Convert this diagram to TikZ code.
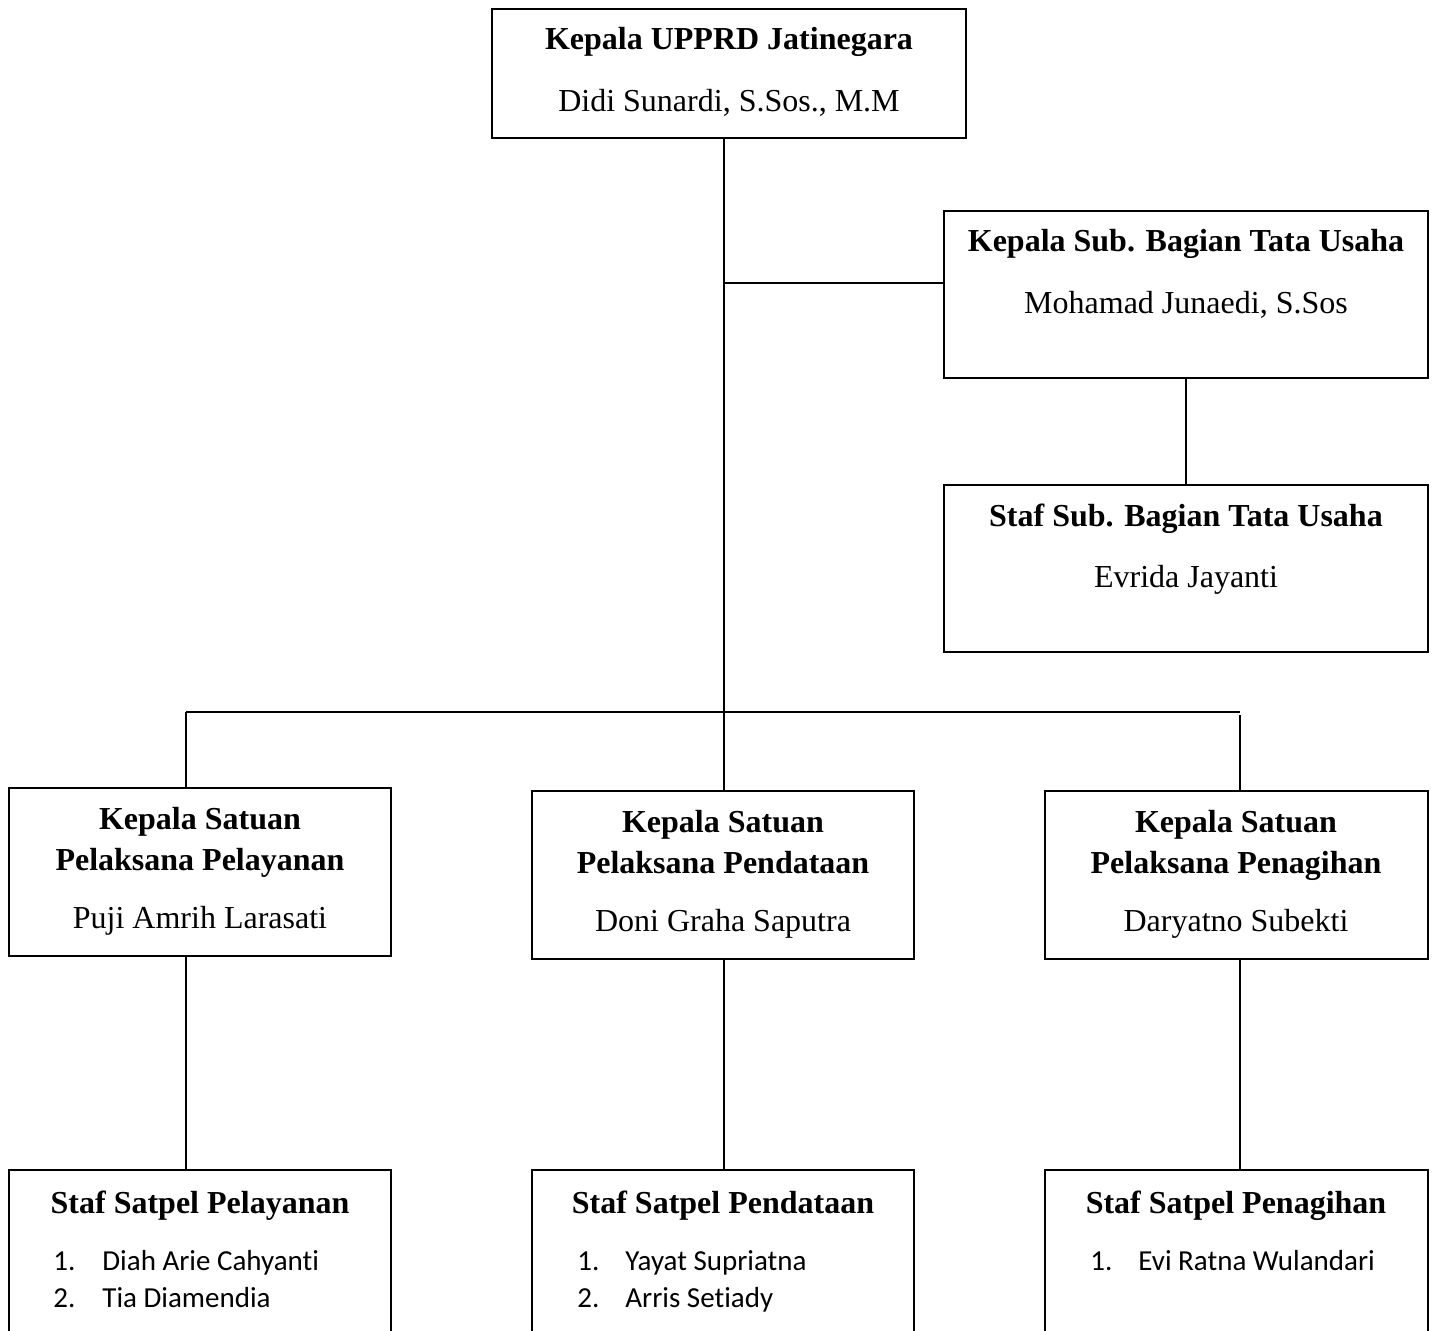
\documentclass[tikz,border=0pt]{standalone}
\usepackage{fontspec}
\setmainfont{Liberation Serif}
\newfontfamily\calib[Ligatures=NoCommon,RawFeature=-liga]{Carlito}
\usetikzlibrary{fit}
\tikzset{
  box/.style={draw=black, line width=1pt, inner sep=0pt, fill=none},
  conn/.style={draw=black, line width=1pt},
  ttl/.style={anchor=base, inner sep=0pt, font=\fontsize{16}{19}\selectfont\bfseries},
  nm/.style={anchor=base, inner sep=0pt, font=\fontsize{16}{19}\selectfont},
  itm/.style={anchor=base west, inner sep=0pt, font=\calib\fontsize{14.5}{17}\selectfont},
}
\begin{document}
\begin{tikzpicture}[x=0.5pt, y=-0.5pt]
\clip (0,0) rectangle (1435,1330);
\fill[white] (0,0) rectangle (1435,1330);
% boxes
\node[box, fit={(492,9) (966,138)}] (top) {};
\node[box, fit={(944,211) (1428,378)}] (ksub) {};
\node[box, fit={(944,485) (1428,652)}] (ssub) {};
\node[box, fit={(9,788) (391,956)}] (kpel) {};
\node[box, fit={(532,791) (914,959)}] (kpen) {};
\node[box, fit={(1045,791) (1428,959)}] (kpng) {};
\node[box, fit={(9,1170) (391,1360)}] (spel) {};
\node[box, fit={(532,1170) (914,1360)}] (spen) {};
\node[box, fit={(1045,1170) (1428,1360)}] (spng) {};
% texts
\node[ttl] (topT) at (729,49) {Kepala UPPRD Jatinegara};
\node[nm] (topN) at (729,111) {Didi Sunardi, S.Sos., M.M};
\node[ttl] (ksubT) at (1186,251) {Kepala Sub. Bagian Tata Usaha};
\node[nm] (ksubN) at (1186,313) {Mohamad Junaedi, S.Sos};
\node[ttl] (ssubT) at (1186,526) {Staf Sub. Bagian Tata Usaha};
\node[nm] (ssubN) at (1186,587) {Evrida Jayanti};
\node[ttl] (kpelT1) at (200,829) {Kepala Satuan};
\node[ttl] (kpelT2) at (200,870) {Pelaksana Pelayanan};
\node[nm] (kpelN) at (200,928) {Puji Amrih Larasati};
\node[ttl] (kpenT1) at (723,832) {Kepala Satuan};
\node[ttl] (kpenT2) at (723,873) {Pelaksana Pendataan};
\node[nm] (kpenN) at (723,931) {Doni Graha Saputra};
\node[ttl] (kpngT1) at (1236,832) {Kepala Satuan};
\node[ttl] (kpngT2) at (1236,873) {Pelaksana Penagihan};
\node[nm] (kpngN) at (1236,931) {Daryatno Subekti};
\node[ttl] (spelT) at (200,1213) {Staf Satpel Pelayanan};
\node[itm] (spel1n) at (53,1270) {1.};
\node[itm] (spel1) at (102,1270) {Diah Arie Cahyanti};
\node[itm] (spel2n) at (53,1307) {2.};
\node[itm] (spel2) at (102,1307) {Tia Diamendia};
\node[ttl] (spenT) at (723,1213) {Staf Satpel Pendataan};
\node[itm] (spen1n) at (577,1270) {1.};
\node[itm] (spen1) at (625,1270) {Yayat Supriatna};
\node[itm] (spen2n) at (577,1307) {2.};
\node[itm] (spen2) at (625,1307) {Arris Setiady};
\node[ttl] (spngT) at (1236,1213) {Staf Satpel Penagihan};
\node[itm] (spng1n) at (1090,1270) {1.};
\node[itm] (spng1) at (1138,1270) {Evi Ratna Wulandari};
% junctions
\coordinate (jx) at (724,283);
\coordinate (jh) at (724,712);
\coordinate (jl) at (186,712);
\coordinate (jr) at (1240,712);
\coordinate (jr2) at (1240,715);
\coordinate (jsub) at (1186,300);
% connectors
\draw[conn] (top.south -| jx) -- (kpen.north -| jx);
\draw[conn] (jx) -- (ksub.west |- jx);
\draw[conn] (ksub.south -| jsub) -- (ssub.north -| jsub);
\draw[conn] (jl) -- (jr);
\draw[conn] (jl) -- (kpel.north -| jl);
\draw[conn] (jr2) -- (kpng.north -| jr2);
\draw[conn] (kpel.south -| jl) -- (spel.north -| jl);
\draw[conn] (kpen.south -| jh) -- (spen.north -| jh);
\draw[conn] (kpng.south -| jr) -- (spng.north -| jr);
\end{tikzpicture}
\end{document}
